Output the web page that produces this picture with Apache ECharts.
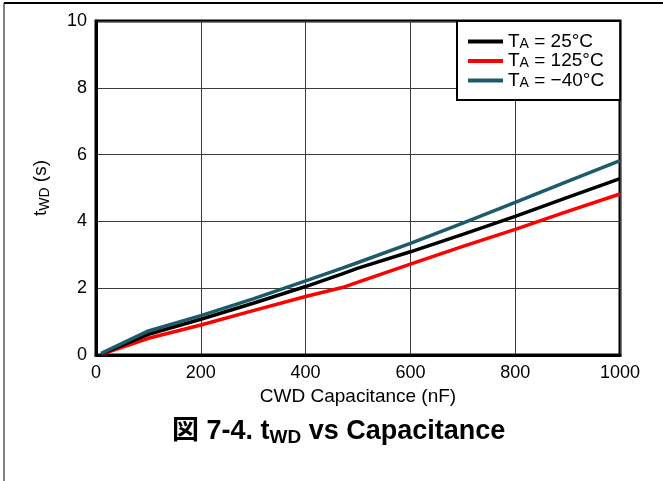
<!DOCTYPE html>
<html>
<head>
<meta charset="utf-8">
<script src="https://cdn.jsdelivr.net/npm/echarts@6/dist/echarts.min.js"></script>
<style>html,body{margin:0;padding:0;background:#fff;}#c{width:663px;height:481px;}</style>
</head>
<body>
<div id="c"></div>
<script>
// Data
var capacitance = [10, 100, 200, 300, 400, 470, 500, 600, 700, 800, 900, 1000];
var t25  = [0.03, 0.62, 1.07, 1.55, 2.05, 2.43, 2.60, 3.09, 3.61, 4.15, 4.72, 5.28];
var t125 = [0.02, 0.50, 0.90, 1.33, 1.75, 2.02, 2.18, 2.72, 3.25, 3.76, 4.30, 4.82];
var tm40 = [0.05, 0.72, 1.18, 1.68, 2.22, 2.60, 2.77, 3.34, 3.95, 4.57, 5.20, 5.82];
var xTicks = [0, 200, 400, 600, 800, 1000];
var yTicks = [0, 2, 4, 6, 8, 10];
var seriesNames = ['25', '125', '-40'];
var legendLabels = {'25': '25°C', '125': '125°C', '-40': '\u221240°C'};

function pairs(xs, ys) { return xs.map(function (x, i) { return [x, ys[i]]; }); }

var FONT = '"Liberation Sans", Arial, "Noto Sans CJK JP", sans-serif';
var chart = echarts.init(document.getElementById('c'), null, {renderer: 'canvas'});

var option = {
  backgroundColor: '#fff',
  animation: false,
  textStyle: {fontFamily: FONT},
  title: {
    text: '{b|図 7-4. t}{s|WD}{b| vs Capacitance}',
    left: 172, top: 417, padding: 0,
    textStyle: {
      rich: {
        b: {fontFamily: FONT, fontSize: 27, fontWeight: 'bold', color: '#000', lineHeight: 30, verticalAlign: 'middle'},
        s: {fontFamily: FONT, fontSize: 19, fontWeight: 'bold', color: '#000', lineHeight: 12, verticalAlign: 'bottom'}
      }
    }
  },
  grid: {left: 96, top: 21, right: 43, bottom: 126, show: true, borderColor: '#000', borderWidth: 3, backgroundColor: 'transparent'},
  legend: {
    left: 457, top: 21, orient: 'vertical',
    data: seriesNames,
    icon: 'rect', itemWidth: 35, itemHeight: 4, itemGap: 0.5, itemTextGap: 10,
    padding: [11, 16, 10, 11],
    backgroundColor: '#fff', borderColor: '#000', borderWidth: 2,
    formatter: function (n) { return '{t|T}{s|A}{t| = ' + legendLabels[n] + '}'; },
    textStyle: {
      rich: {
        t: {fontFamily: FONT, fontSize: 19, color: '#000', lineHeight: 19, verticalAlign: 'middle'},
        s: {fontFamily: FONT, fontSize: 14, color: '#000', lineHeight: 5, verticalAlign: 'bottom'}
      }
    }
  },
  xAxis: {
    type: 'value', min: xTicks[0], max: xTicks[xTicks.length - 1], interval: xTicks[1] - xTicks[0],
    name: 'CWD Capacitance (nF)', nameLocation: 'middle', nameGap: 28,
    nameTextStyle: {fontFamily: FONT, fontSize: 19, color: '#000'},
    axisLine: {show: true, lineStyle: {color: '#000', width: 3}},
    axisTick: {show: false},
    axisLabel: {fontFamily: FONT, fontSize: 18, color: '#000', margin: 9, formatter: function (v) { return String(v); }},
    splitLine: {show: true, lineStyle: {color: '#3a3a3a', width: 1}}
  },
  yAxis: {
    type: 'value', min: yTicks[0], max: yTicks[yTicks.length - 1], interval: yTicks[1] - yTicks[0],
    name: '{t|t}{s|WD}{t| (s)}', nameLocation: 'middle', nameGap: 44, nameRotate: 90,
    nameTextStyle: {
      rich: {
        t: {fontFamily: FONT, fontSize: 19, color: '#000', lineHeight: 22, verticalAlign: 'middle'},
        s: {fontFamily: FONT, fontSize: 14, color: '#000', lineHeight: 10, verticalAlign: 'bottom'}
      }
    },
    axisLine: {show: true, lineStyle: {color: '#000', width: 3}},
    axisTick: {show: false},
    axisLabel: {fontFamily: FONT, fontSize: 18, color: '#000', margin: 9, formatter: function (v) { return String(v); }},
    splitLine: {show: true, lineStyle: {color: '#3a3a3a', width: 1}}
  },
  series: [
    {name: '125', type: 'line', data: pairs(capacitance, t125), showSymbol: false, symbol: 'none', color: '#ff0000', lineStyle: {width: 3.5, color: '#ff0000'}, z: 3},
    {name: '25', type: 'line', data: pairs(capacitance, t25), showSymbol: false, symbol: 'none', color: '#000000', lineStyle: {width: 3.5, color: '#000000'}, z: 4},
    {name: '-40', type: 'line', data: pairs(capacitance, tm40), showSymbol: false, symbol: 'none', color: '#1d5b6b', lineStyle: {width: 3.5, color: '#1d5b6b'}, z: 5}
  ],
  graphic: [
    {type: 'line', shape: {x1: 4, y1: 3, x2: 4, y2: 481}, style: {stroke: '#808080', lineWidth: 2}, silent: true},
    {type: 'line', shape: {x1: 4, y1: 3, x2: 663, y2: 3}, style: {stroke: '#000', lineWidth: 2}, silent: true}
  ]
};
chart.setOption(option);
</script>
</body>
</html>
